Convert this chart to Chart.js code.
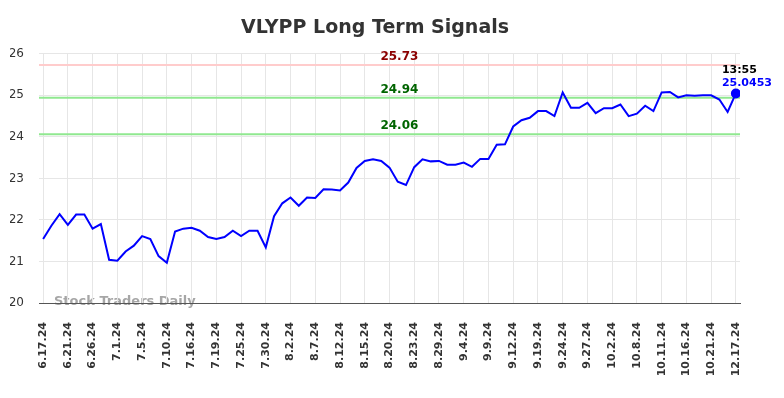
<!DOCTYPE html>
<html>
<head>
<meta charset="utf-8">
<script src="https://cdn.jsdelivr.net/npm/chart.js@4.4.1/dist/chart.umd.min.js"></script>
<style>
  html, body { margin: 0; padding: 0; background: #fff; }
  #wrap { width: 784px; height: 398px; }
</style>
</head>
<body>
<div id="wrap"><canvas id="signalChart"></canvas></div>
<script>
// tick labels, one every 3 sessions
const tickLabels = ["6.17.24", "6.21.24", "6.26.24", "7.1.24", "7.5.24", "7.10.24", "7.16.24", "7.19.24",
  "7.25.24", "7.30.24", "8.2.24", "8.7.24", "8.12.24", "8.15.24", "8.20.24", "8.23.24", "8.29.24",
  "9.4.24", "9.9.24", "9.12.24", "9.19.24", "9.24.24", "9.27.24", "10.2.24", "10.8.24", "10.11.24",
  "10.16.24", "10.21.24", "12.17.24"];
const tickStep = 3;

// closing prices
const prices = [
  21.54, 21.86, 22.14, 21.88, 22.13, 22.13, 21.79, 21.90, 21.04, 21.02,
  21.24, 21.38, 21.61, 21.54, 21.13, 20.97, 21.72, 21.79, 21.81, 21.74,
  21.59, 21.54, 21.59, 21.74, 21.61, 21.74, 21.74, 21.34, 22.09, 22.40,
  22.54, 22.34, 22.54, 22.53, 22.74, 22.73, 22.71, 22.90, 23.25, 23.42,
  23.46, 23.42, 23.26, 22.92, 22.84, 23.27, 23.46, 23.41, 23.42, 23.33,
  23.33, 23.38, 23.28, 23.47, 23.47, 23.81, 23.82, 24.25, 24.40, 24.46,
  24.62, 24.62, 24.50, 25.07, 24.70, 24.70, 24.82, 24.57, 24.69, 24.69,
  24.78, 24.50, 24.56, 24.75, 24.62, 25.07, 25.08, 24.95, 25.00, 24.99,
  25.00, 25.00, 24.90, 24.60, 25.0453
];

// signal levels
const resistance = 25.73;
const signalLevels = [24.94, 24.06];
const lastTime = "13:55";

const yTicks = [20, 21, 22, 23, 24, 25, 26];

const last = prices.length - 1;
const xMin = -0.5, xMax = last + 0.5;

const levelLine = (v, color) => ({
  data: [{ x: xMin, y: v }, { x: xMax, y: v }],
  borderColor: color,
  borderWidth: 2,
  pointRadius: 0,
  order: 2,
});

// text overlays: level labels, last price, watermark
const overlay = {
  id: "overlay",
  beforeDraw(chart) {
    const { ctx, chartArea } = chart;
    ctx.save();
    ctx.font = "bold 13px 'DejaVu Sans'";
    ctx.fillStyle = "rgba(150,150,150,0.85)";
    ctx.textBaseline = "middle";
    ctx.textAlign = "left";
    ctx.fillText("Stock Traders Daily", chartArea.left + 15, chartArea.bottom - 1);
    ctx.restore();
  },
  afterDatasetsDraw(chart) {
    const { ctx, scales } = chart;
    const x = scales.x, y = scales.y;
    ctx.save();
    ctx.font = "bold 12px 'DejaVu Sans'";
    ctx.textAlign = "center";
    ctx.textBaseline = "bottom";
    const cx = x.getPixelForValue(43.2);
    ctx.fillStyle = "#8b0000";
    ctx.fillText(resistance.toFixed(2), cx, y.getPixelForValue(resistance) - 2);
    ctx.fillStyle = "#006400";
    signalLevels.forEach(v => ctx.fillText(v.toFixed(2), cx, y.getPixelForValue(v) - 2));

    const px = x.getPixelForValue(last), py = y.getPixelForValue(prices[last]);
    ctx.font = "bold 11px 'DejaVu Sans'";
    ctx.textAlign = "left";
    ctx.textBaseline = "middle";
    ctx.fillStyle = "#000";
    ctx.fillText(lastTime, px - 14, py - 23);
    ctx.fillStyle = "#0000ff";
    ctx.fillText(String(prices[last]), px - 14, py - 10);
    ctx.restore();
  }
};

Chart.defaults.font.family = "'DejaVu Sans'";
Chart.defaults.color = "#333";

new Chart(document.getElementById("signalChart"), {
  type: "line",
  data: {
    datasets: [
      {
        data: prices.map((v, i) => ({ x: i, y: v })),
        borderColor: "#0000ff",
        backgroundColor: "#0000ff",
        borderWidth: 2,
        tension: 0,
        pointRadius: c => (c.dataIndex === last ? 4 : 0),
        pointHoverRadius: 0,
        order: 1,
      },
      levelLine(resistance, "#ffcccc"),
      levelLine(signalLevels[0], "#90e890"),
      levelLine(signalLevels[1], "#90e890"),
    ],
  },
  options: {
    responsive: true,
    maintainAspectRatio: false,
    animation: false,
    events: [],
    layout: { padding: { left: 10, right: 44, bottom: 0 } },
    plugins: {
      legend: { display: false },
      tooltip: { enabled: false },
      title: {
        display: true,
        text: "VLYPP Long Term Signals",
        color: "#333",
        font: { size: 19, weight: "bold" },
        padding: { top: 17, bottom: 14 },
      },
    },
    scales: {
      x: {
        type: "linear",
        min: xMin,
        max: xMax,
        afterBuildTicks: axis => {
          axis.ticks = tickLabels.map((t, k) => ({ value: k * tickStep }));
        },
        afterFit: axis => { axis.height = 95; },
        ticks: {
          autoSkip: false,
          minRotation: 90,
          maxRotation: 90,
          padding: 19,
          color: "#333",
          font: { size: 11, weight: "bold" },
          callback: v => tickLabels[v / tickStep],
        },
        grid: { color: "#e6e6e6", drawTicks: false },
        border: { display: true, color: "#555", width: 1 },
      },
      y: {
        min: 20,
        max: 26,
        afterBuildTicks: axis => {
          axis.ticks = yTicks.map(v => ({ value: v }));
        },
        afterFit: axis => { axis.width = 29; },
        ticks: { padding: 15, color: "#333", font: { size: 12 } },
        grid: { color: "#e6e6e6", drawTicks: false },
        border: { display: false },
      },
    },
  },
  plugins: [overlay],
});
</script>
</body>
</html>
